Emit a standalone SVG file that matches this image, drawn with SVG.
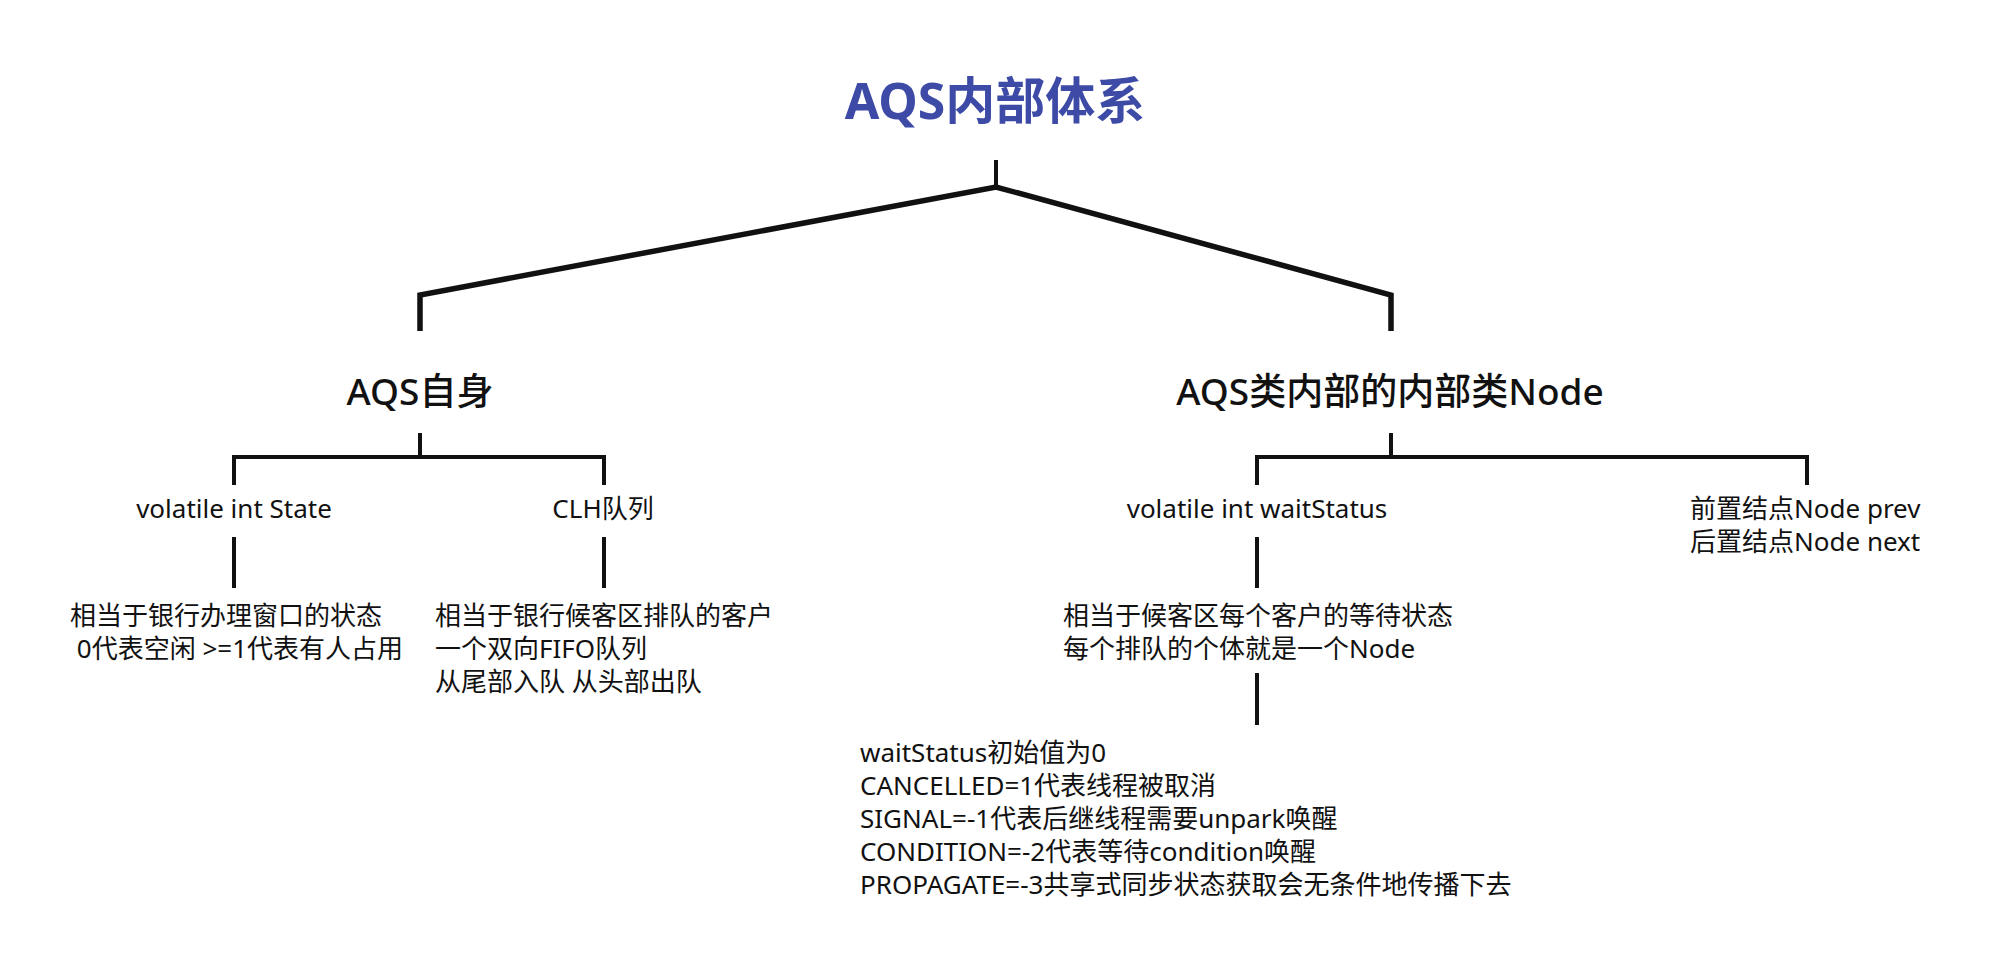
<svg xmlns="http://www.w3.org/2000/svg" width="1996" height="956" viewBox="0 0 1996 956">
<style>
.t{font-family:"Noto Sans","Noto Sans CJK SC",sans-serif;font-size:26px;fill:#111}
.h{font-family:"Noto Sans","Noto Sans CJK SC",sans-serif;font-size:37px;font-weight:500;fill:#111;text-anchor:middle}
.title{font-family:"Noto Sans","Noto Sans CJK SC",sans-serif;font-size:50px;font-weight:700;fill:#3D4BA7;text-anchor:middle}
.c{fill:none;stroke:#111;stroke-width:4;stroke-linecap:butt;stroke-linejoin:miter}
.d{fill:none;stroke:#111;stroke-width:5.5;stroke-linejoin:miter}
</style>
<rect width="1996" height="956" fill="#fff"/>
<g id="connectors">
<path class="c" d="M996 160V187"/>
<path class="d" d="M420 331V295L996 187L1391 295V331"/>
<path class="c" d="M420 433V457M234 485V457H604V485"/>
<path class="c" d="M234 537V588M604 537V588"/>
<path class="c" d="M1391 433V457M1257 485V457H1807V485"/>
<path class="c" d="M1257 537V588M1257 673V725"/>
</g>
<g id="root"><text class="title" x="995" y="119">AQS内部体系</text></g>
<g id="aqs-self"><text class="h" x="420" y="405">AQS自身</text></g>
<g id="aqs-node"><text class="h" x="1390" y="405">AQS类内部的内部类Node</text></g>
<g id="state"><text class="t" x="234" y="518" text-anchor="middle">volatile int State</text></g>
<g id="clh"><text class="t" x="603" y="518" text-anchor="middle">CLH队列</text></g>
<g id="state-desc"><text class="t" x="70" y="625">相当于银行办理窗口的状态</text><text class="t" x="70" y="658" xml:space="preserve"> 0代表空闲 &gt;=1代表有人占用</text></g>
<g id="clh-desc"><text class="t" x="435" y="625">相当于银行候客区排队的客户</text><text class="t" x="435" y="658">一个双向FIFO队列</text><text class="t" x="435" y="691">从尾部入队 从头部出队</text></g>
<g id="waitstatus"><text class="t" x="1257" y="518" text-anchor="middle">volatile int waitStatus</text></g>
<g id="prevnext"><text class="t" x="1690" y="518">前置结点Node prev</text><text class="t" x="1690" y="551">后置结点Node next</text></g>
<g id="waitstatus-desc"><text class="t" x="1063" y="625">相当于候客区每个客户的等待状态</text><text class="t" x="1063" y="658">每个排队的个体就是一个Node</text></g>
<g id="waitstatus-values"><text class="t" x="860" y="762">waitStatus初始值为0</text><text class="t" x="860" y="795">CANCELLED=1代表线程被取消</text><text class="t" x="860" y="828">SIGNAL=-1代表后继线程需要unpark唤醒</text><text class="t" x="860" y="861">CONDITION=-2代表等待condition唤醒</text><text class="t" x="860" y="894">PROPAGATE=-3共享式同步状态获取会无条件地传播下去</text></g>
</svg>
